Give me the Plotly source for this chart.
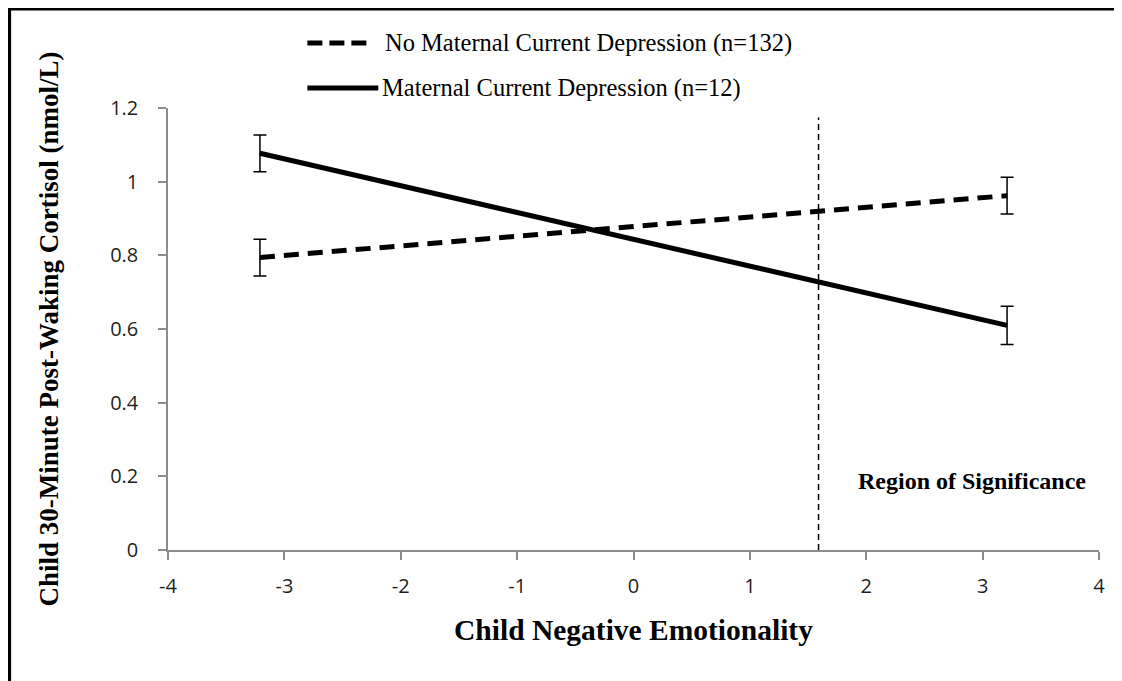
import plotly.graph_objects as go

# Simple slopes at the low/high ends of child negative emotionality
x_points = [-3.21, 3.21]
no_dep_y = [0.794, 0.962]
no_dep_err = [0.05, 0.05]
dep_y = [1.077, 0.610]
dep_err = [0.05, 0.052]

# Johnson-Neyman boundary of the region of significance
region_x = [1.59, 1.59]
region_y = [0, 1.174]

legend_labels = [
    "No Maternal Current Depression (n=132)",
    "Maternal Current Depression (n=12)",
]
x_ticks = [-4, -3, -2, -1, 0, 1, 2, 3, 4]
y_ticks = [0, 0.2, 0.4, 0.6, 0.8, 1, 1.2]

SERIF = "Liberation Serif, Times New Roman, serif"
SANS = "Open Sans, Liberation Sans, sans-serif"

fig = go.Figure()

fig.add_trace(go.Scatter(
    x=region_x, y=region_y, mode="lines",
    line=dict(color="black", width=1.5, dash="6px,4px"),
    showlegend=False, hoverinfo="skip",
))

fig.add_trace(go.Scatter(
    x=x_points, y=no_dep_y, mode="lines", name=legend_labels[0],
    line=dict(color="black", width=5, dash="15px,9px"),
    error_y=dict(type="data", array=no_dep_err, color="black",
                 thickness=1.5, width=6.5),
    showlegend=False,
))

fig.add_trace(go.Scatter(
    x=x_points, y=dep_y, mode="lines", name=legend_labels[1],
    line=dict(color="black", width=5),
    error_y=dict(type="data", array=dep_err, color="black",
                 thickness=1.5, width=6.5),
    showlegend=False,
))

# hand-made legend, the keys are much longer than plotly's own
shapes = [
    dict(type="line", xref="paper", yref="paper",
         x0=0.1497, x1=0.2205, y0=1.147, y1=1.147,
         line=dict(color="black", width=5, dash="15px,7px")),
    dict(type="line", xref="paper", yref="paper",
         x0=0.1497, x1=0.2259, y0=1.0452, y1=1.0452,
         line=dict(color="black", width=5)),
    # outer frame (only top and left edges are visible)
    dict(type="line", xref="paper", yref="paper",
         x0=-0.1712, x1=1.03, y0=1.2262, y1=1.2262,
         line=dict(color="black", width=5)),
    dict(type="line", xref="paper", yref="paper",
         x0=-0.1712, x1=-0.1712, y0=-0.31, y1=1.2262,
         line=dict(color="black", width=5)),
]

annotations = [
    dict(text=legend_labels[0], xref="paper", yref="paper",
         x=0.2313, y=1.147, xanchor="left", yanchor="middle",
         showarrow=False, font=dict(family=SERIF, size=24.5, color="black")),
    dict(text=legend_labels[1], xref="paper", yref="paper",
         x=0.2280, y=1.0452, xanchor="left", yanchor="middle",
         showarrow=False, font=dict(family=SERIF, size=24.5, color="black")),
    dict(text="<b>Region of Significance</b>", x=2.906, y=0.186,
         xanchor="center", yanchor="middle", showarrow=False,
         font=dict(family=SERIF, size=24, color="black")),
]

# the page adds an 8px body margin, so the figure is 8px smaller each way
fig.update_layout(
    width=1114, height=673,
    paper_bgcolor="white", plot_bgcolor="white",
    margin=dict(l=159.5, r=22.7, t=100, b=131),
    shapes=shapes,
    annotations=annotations,
    showlegend=False,
)

fig.update_xaxes(
    range=[-4, 4], tickvals=x_ticks, ticktext=[str(v) for v in x_ticks],
    showgrid=False, zeroline=False,
    showline=True, linecolor="#8c8c8c", linewidth=1.5,
    ticks="outside", ticklen=8, tickcolor="#8c8c8c", tickwidth=1.5,
    ticklabelstandoff=9,
    tickfont=dict(family=SANS, size=20, color="#1f1f1f"),
    title=dict(text="<b>Child Negative Emotionality</b>", standoff=22,
               font=dict(family=SERIF, size=29.5, color="black")),
)

fig.update_yaxes(
    range=[0, 1.2], tickvals=y_ticks,
    ticktext=["0", "0.2", "0.4", "0.6", "0.8", "1", "1.2"],
    showgrid=False, zeroline=False,
    showline=True, linecolor="#8c8c8c", linewidth=1.5,
    ticks="outside", ticklen=8, tickcolor="#8c8c8c", tickwidth=1.5,
    ticklabelstandoff=16,
    tickfont=dict(family=SANS, size=20, color="#1f1f1f"),
    title=dict(text="<b>Child 30-Minute Post-Waking Cortisol (nmol/L)</b>",
               standoff=44, font=dict(family=SERIF, size=27, color="black")),
)

fig.write_html("out.html")
